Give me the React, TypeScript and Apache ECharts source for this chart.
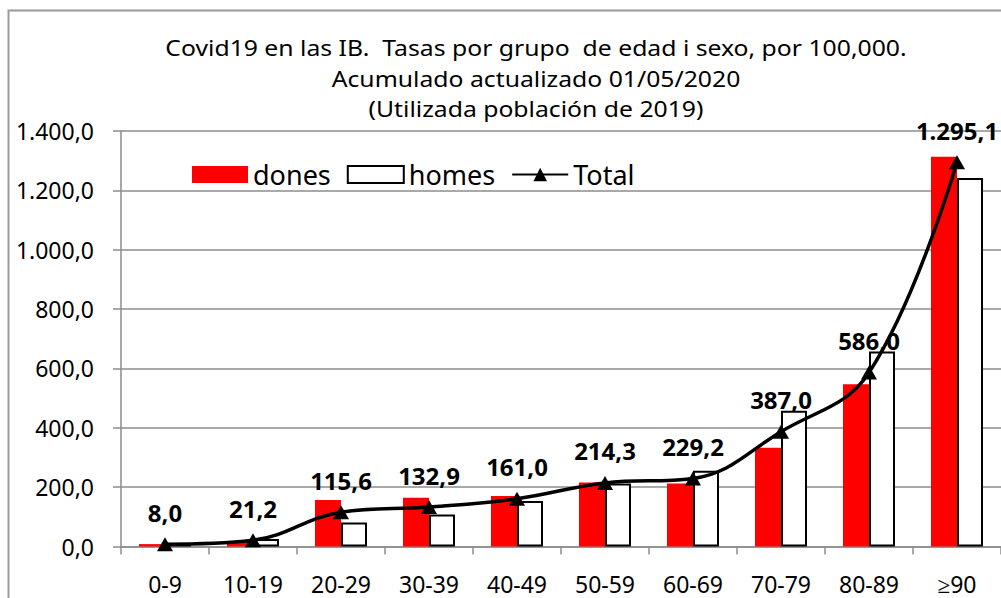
import React, { useEffect, useRef } from "react";
import * as echarts from "echarts";

const categories = ["0-9", "10-19", "20-29", "30-39", "40-49", "50-59", "60-69", "70-79", "80-89", "≥90"];
const dones = [8, 18, 157, 164, 170, 216, 212, 333, 547, 1313];
const homes = [8, 25, 81, 108, 153, 212, 255, 457, 657, 1242];
const total = [8.0, 21.2, 115.6, 132.9, 161.0, 214.3, 229.2, 387.0, 586.0, 1295.1];
const titleLines = [
  "Covid19 en las IB.  Tasas por grupo  de edad i sexo, por 100,000.",
  "Acumulado actualizado 01/05/2020",
  "(Utilizada población de 2019)",
];
const seriesNames = ["dones", "homes", "Total"];

const FONT = "Noto Sans";

const fmt = (v: number) => {
  const [i, d] = v.toFixed(1).split(".");
  return i.replace(/\B(?=(\d{3})+(?!\d))/g, ".") + "," + d;
};

export default function App() {
  const ref = useRef<HTMLDivElement>(null);
  useEffect(() => {
    if (!ref.current) return;
    const chart = echarts.init(ref.current, undefined, { renderer: "svg" });
    chart.setOption({
      animation: false,
      backgroundColor: "#ffffff",
      textStyle: { fontFamily: FONT },
      graphic: [
        {
          type: "rect",
          shape: { x: 8.5, y: 10.5, width: 1200, height: 1000 },
          style: { fill: "none", stroke: "#999999", lineWidth: 2 },
          silent: true,
        },
        ...titleLines.map((t, k) => ({
          type: "text",
          x: 536,
          y: 48 + k * 30.5,
          scaleX: 1.125,
          style: {
            text: t,
            fontFamily: FONT,
            fontSize: 22,
            fill: "#000",
            textAlign: "center",
            textVerticalAlign: "middle",
          },
        })),
      ],
      legend: {
        left: 187,
        top: 156,
        itemWidth: 56,
        itemHeight: 17,
        itemGap: 16,
        textStyle: { fontFamily: FONT, fontSize: 27, color: "#000" },
        data: [
          { name: seriesNames[0], icon: "rect" },
          { name: seriesNames[1], icon: "rect" },
          { name: seriesNames[2] },
        ],
      },
      grid: { left: 121, top: 131, width: 888, height: 415.5, containLabel: false },
      xAxis: {
        type: "category",
        data: categories,
        axisLine: { lineStyle: { color: "#8c8c8c", width: 1.5 } },
        axisTick: { show: true, length: 8, lineStyle: { color: "#8c8c8c", width: 1.5 } },
        axisLabel: { fontFamily: FONT, fontSize: 23, lineHeight: 20, color: "#000", margin: 27 },
      },
      yAxis: {
        type: "value",
        min: 0,
        max: 1400,
        interval: 200,
        axisLine: { show: true, lineStyle: { color: "#8c8c8c", width: 1.5 } },
        axisTick: { show: true, length: 8, lineStyle: { color: "#8c8c8c", width: 1.5 } },
        splitLine: { lineStyle: { color: "#8c8c8c", width: 1.5 } },
        axisLabel: { fontFamily: FONT, fontSize: 23, color: "#000", margin: 27, formatter: (v: number) => fmt(v) },
      },
      series: [
        {
          name: seriesNames[0],
          type: "bar",
          data: dones,
          barWidth: 26,
          barGap: "0%",
          itemStyle: { color: "#ff0000" },
        },
        {
          name: seriesNames[1],
          type: "bar",
          data: homes,
          barWidth: 26,
          barGap: "0%",
          itemStyle: { color: "#ffffff", borderColor: "#000", borderWidth: 2 },
        },
        {
          name: seriesNames[2],
          type: "line",
          data: total,
          smooth: 0.4,
          symbol: "triangle",
          symbolSize: [16, 14],
          z: 5,
          lineStyle: { color: "#000", width: 3.5 },
          itemStyle: { color: "#000" },
          label: {
            show: true,
            position: "top",
            distance: 13,
            fontFamily: FONT,
            fontSize: 24,
            fontWeight: "bold",
            color: "#000",
            formatter: (p: any) => fmt(p.value),
          },
        },
      ],
    });
    return () => chart.dispose();
  }, []);
  return (
    <div
      ref={ref}
      style={{ position: "fixed", left: 0, top: 0, width: 1001, height: 598 }}
    />
  );
}
